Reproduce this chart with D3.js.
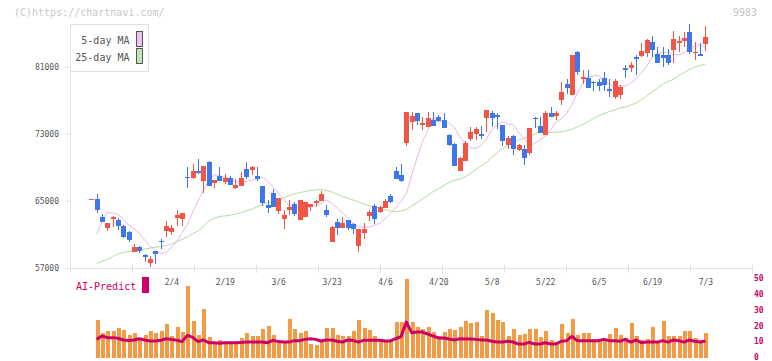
<!DOCTYPE html>
<html><head><meta charset="utf-8">
<script src="https://cdn.jsdelivr.net/npm/d3@7"></script>
<style>
body{margin:0;background:#fff;}
svg{display:block;font-family:"DejaVu Sans Mono",monospace;}
</style>
</head><body>
<svg id="c" width="772" height="361"></svg>
<script>
// ---- data (index 0 = previous-day marker, 1..115 trading days) ----
const opens = [65200,65200,63100,61800,62800,62700,62000,61300,58900,59450,
58550,57600,59000,60200,61400,61300,62950,62800,67850,67700,
68550,67350,69600,67150,67950,67250,67700,66500,66750,68800,
68650,67950,66750,64500,65900,63800,62850,63900,64650,62750,
63100,64300,64750,65000,63900,60100,62500,61800,62750,62250,
59650,61200,63200,64400,63700,64100,65600,68550,68050,71900,
74450,75450,74050,73850,74650,75000,74650,72850,71800,68500,
69800,72400,73000,73000,74900,75450,75250,74050,71700,72750,
71050,71200,70750,74900,73950,72850,75450,75100,77050,78900,
77600,82750,79500,79600,79200,79150,79600,78300,77350,77600,
80800,80900,82100,82300,82650,83950,82500,82400,82400,83000,
83850,84050,85150,82650,82500,83700];
const highs = [65200,65800,63400,62350,63200,62950,62100,61400,59850,59650,
58650,58450,59000,60450,62550,62100,63900,63550,69000,69400,
70000,69150,69750,67450,69000,68200,67950,67600,68450,69600,
69150,69000,66750,65100,66400,65350,63900,65100,64900,65100,
64900,64650,65100,66150,64500,62000,62850,63100,62750,62350,
61650,62350,63900,64650,64400,65250,65850,69000,69400,75550,
75550,75450,75000,75550,75650,75250,75450,73000,71900,70250,
72150,73850,73850,73950,75850,75700,75450,74050,72750,72850,
71750,71650,73700,75050,74950,75700,76150,75700,79200,79500,
82400,82900,80600,80600,79250,79500,80350,79500,79500,78800,
81150,81600,82450,83850,84300,84650,83350,83350,83100,85250,
84650,85150,86100,83950,83850,85850];
const lows = [65200,63550,62400,61400,61850,61550,60600,60100,58900,58800,
57700,57100,57450,59250,60650,60950,62000,62000,66500,67600,
68200,65900,66750,66500,67350,67000,66900,66400,66750,67600,
68050,67350,64400,63550,64300,63450,61650,63350,63200,62750,
63100,63800,64300,65000,63000,60100,60950,61800,61550,61000,
58900,60450,62600,62250,63550,64100,64700,67650,67250,71550,
73500,74050,73500,73850,73950,74450,73700,71550,69200,68500,
69800,72150,72250,72400,73200,73800,73600,71550,71200,70400,
70900,69300,70500,73700,73100,72850,75000,74650,76450,77700,
77600,80050,78900,78400,78050,78050,78050,77350,77200,77100,
79600,80400,79950,82100,82100,82100,81450,81000,81150,81450,
82750,83350,82500,81850,82300,82900];
const closes = [65200,63900,62450,62350,63000,62000,60700,60350,59450,59050,
58250,58050,58650,60100,62000,61800,63300,63550,67700,68550,
68300,69150,66750,67450,67350,67700,66900,66900,67700,67850,
69000,67600,64750,64100,64300,65350,63350,64300,63450,65100,
64900,64650,65000,65800,63350,61900,61800,62350,61800,61650,
61650,61650,63700,62850,64300,65000,64900,67650,67400,75550,
75100,74550,74300,74850,73950,74550,73700,71700,69200,70150,
71900,73250,73600,72750,75850,74900,75050,72150,72500,71200,
71650,70150,73700,74700,73100,75450,75000,75450,78000,78400,
82400,80400,79750,78400,79000,78650,78800,78050,79250,78550,
80600,81150,81900,82900,84200,83000,81450,82050,81450,84300,
84050,84450,82750,82750,82300,84550];
const ma5 = [null,60990,62460,63590,63530,63380,62740,62100,61680,61100,
60310,59560,59030,58690,58820,59410,60120,61170,62150,63670,
64980,66280,67450,68090,68040,67800,67680,67230,67260,67310,
67410,67670,67810,67380,66660,65950,65220,64370,64280,64150,
64310,64220,64480,64620,65090,64740,64140,63570,63040,62240,
61900,61850,61820,62090,62300,62830,63500,64150,64940,65850,
68100,70120,72050,73380,74870,74550,74440,74270,73750,72620,
71860,71330,71240,71620,72330,73470,74070,74430,74140,74090,
73160,72510,71530,71840,72280,72660,73420,74390,74740,75400,
76460,77850,78930,79790,79870,79990,79240,78920,78580,78750,
78660,79050,79520,80290,81020,82150,82630,82690,82720,82430,
82450,82660,83260,83400,83660,83260];
const ma25 = [null,57530,57740,58000,58340,58640,58810,58930,59020,59110,
59230,59350,59440,59530,59630,59830,60130,60370,60670,61080,
61380,61920,62580,62900,63110,63176,63276,63396,63574,63788,
63982,64262,64538,64714,64900,65110,65394,65606,65832,65966,
66090,66214,66268,66326,66250,66042,65786,65492,65316,65090,
64862,64620,64410,64282,64088,63946,63786,63678,63794,63926,
64376,64766,65214,65614,66070,66424,66810,67172,67440,67576,
67848,68248,68706,69156,69594,70162,70692,71228,71566,71952,
72228,72494,72704,72946,73238,73140,73154,73172,73218,73344,
73522,73836,74104,74426,74794,75148,75418,75640,75818,76078,
76186,76414,76658,77048,77464,77984,78438,78890,79224,79494,
79942,80286,80664,80956,81146,81302];
const volume = [null,23.6,15.6,16.7,16.7,18.6,17.3,14.2,15.4,11.4,
14.2,16.7,15.4,16.7,21.1,13.5,19.2,16.0,45.0,23.0,
14.2,30.5,12.9,9.7,11.0,8.5,9.7,9.7,12.3,15.4,
13.5,13.5,17.9,19.8,14.2,10.4,10.4,24.2,17.9,15.2,
16.7,8.5,7.9,10.4,18.6,18.6,14.2,13.5,13.5,16.7,
23.6,18.6,17.3,13.5,11.6,10.4,10.4,22.3,22.3,49.4,
22.3,19.2,17.9,19.2,16.0,13.5,16.0,17.9,17.3,19.2,
22.9,21.7,22.3,13.5,29.9,28.0,23.6,22.3,13.5,17.9,
14.2,14.8,17.9,17.9,12.9,16.7,11.0,9.7,21.1,15.4,
24.2,14.2,15.4,15.4,11.6,11.6,11.6,14.8,18.6,14.2,
12.3,21.7,13.5,11.0,11.6,19.2,10.4,22.9,13.5,13.5,
13.5,16.7,16.7,12.3,10.4,15.4];
const aiPredict = [null,11.4,13.5,12.5,12.5,12.1,11.0,10.7,11.0,11.8,
11.0,10.4,10.4,10.8,11.8,11.4,10.8,10.0,13.9,12.7,
10.0,11.0,9.3,9.3,8.9,9.3,9.3,9.3,9.5,9.7,
9.7,9.7,9.7,9.3,10.8,10.0,9.7,9.7,10.6,10.6,
11.4,11.8,11.4,10.4,11.0,11.0,10.2,9.7,11.0,10.8,
9.7,10.8,10.8,10.8,10.8,10.4,10.4,11.8,13.1,22.3,
15.6,16.0,16.0,14.8,13.5,12.3,12.3,11.6,11.0,11.8,
11.6,11.6,11.4,11.0,11.0,10.2,9.7,9.7,10.2,9.7,
8.5,8.5,9.5,8.5,8.5,9.3,8.5,8.5,10.2,10.6,
13.3,10.6,10.6,10.6,10.6,10.6,11.4,10.6,10.6,10.2,
11.4,9.7,11.0,9.3,9.7,9.7,9.7,10.6,9.7,11.0,
10.6,9.7,11.0,10.2,9.7,10.4];
const dateTickIdx = [15,25,35,45,55,65,75,85,95,105,115];
const dateTickLabels = ["2/4","2/19","3/6","3/23","4/6","4/20","5/8","5/22","6/5","6/19","7/3"];
const priceTicks = [57000,65000,73000,81000];
const subTicks = [0,10,20,30,40,50];
const seriesNames = ["5-day MA","25-day MA"];

// ---- drawing ----
const svg = d3.select("#c");
const W = 772, H = 361;
const x = d3.scaleLinear().domain([0,115]).range([91.3,705.4]);
const y = d3.scaleLinear().domain([57000,81000]).range([267.7,66.7]);
const yv = d3.scaleLinear().domain([0,50]).range([357.5,278]);
const gridX = d3.scaleLinear().domain([0,11]).range([70,752]);

const RED = "#f15545", BLUE = "#3f76e9", GRID = "#e2e2e2";

// header texts
svg.append("text").attr("x",14).attr("y",16).attr("font-size",10).attr("fill","#c8c8c8").text("(C)https://chartnavi.com/");
svg.append("text").attr("x",757).attr("y",16).attr("text-anchor","end").attr("font-size",10).attr("fill","#c4c4c4").text("9983");

// axes lines
svg.append("line").attr("x1",70.5).attr("x2",70.5).attr("y1",24).attr("y2",268).attr("stroke",GRID);
svg.append("line").attr("x1",70).attr("x2",753).attr("y1",268.5).attr("y2",268.5).attr("stroke",GRID).attr("stroke-width",1.2);
svg.append("g").selectAll("line").data(d3.range(0,12)).join("line")
  .attr("x1",d=>Math.round(gridX(d))+0.5).attr("x2",d=>Math.round(gridX(d))+0.5)
  .attr("y1",265).attr("y2",273).attr("stroke",GRID);

// y axis
const yAxis = d3.axisLeft(y).tickValues(priceTicks).tickSize(5).tickPadding(6).tickFormat(d3.format("d"));
const gy = svg.append("g").attr("transform","translate(70,0)").call(yAxis);
gy.select(".domain").remove();
gy.selectAll(".tick line").attr("stroke",GRID);
gy.selectAll(".tick text").attr("font-size",8).attr("fill","#555").attr("font-family","DejaVu Sans Mono, monospace");

// date labels
const xAxis = d3.axisBottom(x).tickValues(dateTickIdx).tickSize(0).tickPadding(0).tickFormat((d,i)=>dateTickLabels[i]);
const gx = svg.append("g").attr("transform","translate(0,279)").call(xAxis);
gx.select(".domain").remove();
gx.selectAll(".tick text").attr("font-size",8).attr("fill","#555").attr("font-family","DejaVu Sans Mono, monospace");

// legend
const lg = svg.append("g");
lg.append("rect").attr("x",70.5).attr("y",24.5).attr("width",78).attr("height",47).attr("fill","#fff").attr("stroke","#e0e0e0");
const legColors = ["#f0c2ef","#c3e2b5"];
seriesNames.forEach((n,i)=>{
  lg.append("text").attr("x",129.5).attr("y",40+i*17.3).attr("dy","0.35em").attr("text-anchor","end")
    .attr("font-size",10).attr("fill","#555").text(n);
  lg.append("rect").attr("x",136.5).attr("y",31.5+i*17).attr("width",6).attr("height",15)
    .attr("fill",legColors[i]).attr("stroke","#555");
});

// moving averages
const line = d3.line().defined(d=>d!=null).x((d,i)=>x(i)).y(d=>y(d));
const lineIdx = d3.line().defined(d=>d.v!=null).x(d=>x(d.i)).y(d=>y(d.v));
svg.append("path").datum(ma25.map((v,i)=>({i,v}))).attr("d",lineIdx).attr("fill","none").attr("stroke","#b5dba3").attr("stroke-width",1);
svg.append("path").datum(ma5.map((v,i)=>({i,v}))).attr("d",lineIdx).attr("fill","none").attr("stroke","#e9b8ea").attr("stroke-width",1);

// candles
const cd = opens.map((o,i)=>({i,o,h:highs[i],l:lows[i],c:closes[i]}));
const cg = svg.append("g").attr("shape-rendering","crispEdges");
cg.selectAll("line").data(cd).join("line")
  .attr("x1",d=>Math.round(x(d.i))+0.5).attr("x2",d=>Math.round(x(d.i))+0.5)
  .attr("y1",d=>y(d.h)).attr("y2",d=>y(d.l))
  .attr("stroke",d=>d.c>=d.o?RED:BLUE);
cg.selectAll("rect").data(cd).join("rect")
  .attr("x",d=>Math.round(x(d.i))-2).attr("width",5)
  .attr("y",d=>y(Math.max(d.o,d.c)))
  .attr("height",d=>Math.max(1.2,Math.abs(y(d.o)-y(d.c))))
  .attr("fill",d=>d.c>=d.o?RED:BLUE);

// sub panel
svg.append("text").attr("x",76).attr("y",286).attr("dy","0.35em").attr("font-size",10).attr("fill","#cc0066").text("AI-Predict");
svg.append("rect").attr("x",142).attr("y",277).attr("width",7).attr("height",16).attr("fill","#cc0066");

const vd = volume.map((v,i)=>({i,v})).filter(d=>d.v!=null);
svg.append("g").attr("shape-rendering","crispEdges").selectAll("rect").data(vd).join("rect")
  .attr("x",d=>Math.round(x(d.i))-1.5).attr("width",4)
  .attr("y",d=>yv(d.v)).attr("height",d=>yv(0)-yv(d.v))
  .attr("fill","#f39a45");

const aLine = d3.line().defined(d=>d.v!=null).x(d=>x(d.i)).y(d=>yv(d.v));
svg.append("path").datum(aiPredict.map((v,i)=>({i,v}))).attr("d",aLine)
  .attr("fill","none").attr("stroke","#cc0066").attr("stroke-width",3).attr("stroke-linejoin","round");

svg.append("g").selectAll("text").data(subTicks).join("text")
  .attr("x",754).attr("y",d=>yv(d)).attr("dy","0.35em")
  .attr("font-size",8).attr("font-weight","bold").attr("fill","#cc0066").text(d=>d);
</script>
</body></html>
